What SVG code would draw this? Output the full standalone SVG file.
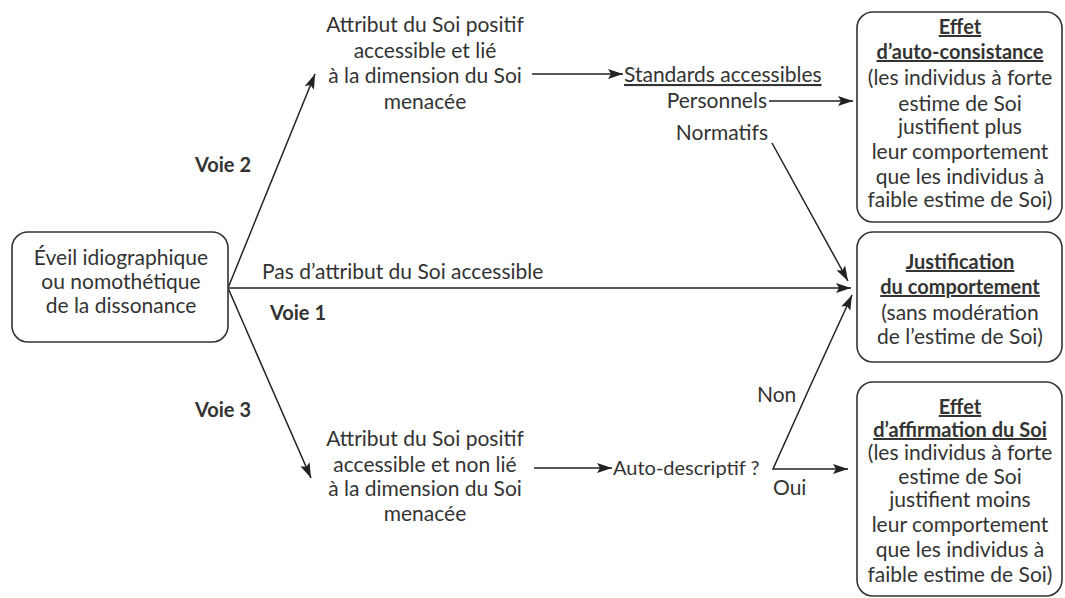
<svg xmlns="http://www.w3.org/2000/svg" width="1065" height="598" viewBox="0 0 1065 598">
<style>
text{font-family:Lato,"Open Sans","DejaVu Sans",sans-serif;font-size:21px;fill:#333;}
.c{text-anchor:middle;}
.e{text-anchor:end;}
.b{font-weight:bold;font-size:20px;}
.u{text-decoration:underline;}
.box{fill:#fff;stroke:#333;stroke-width:1.6;}
.ln{fill:none;stroke:#222;stroke-width:1.5;}
</style>
<defs>
<marker id="ah" markerWidth="16" markerHeight="10" refX="15" refY="5" orient="auto" markerUnits="userSpaceOnUse">
<path d="M0,0 L15,5 L0,10 L3,5 Z" fill="#222"/>
</marker>
</defs>
<rect width="1065" height="598" fill="#fff"/>
<g id="connectors">
<line class="ln" x1="228" y1="288" x2="315" y2="74" marker-end="url(#ah)"/>
<line class="ln" x1="228" y1="288" x2="851" y2="288" marker-end="url(#ah)"/>
<line class="ln" x1="228" y1="288" x2="311" y2="478" marker-end="url(#ah)"/>
<line class="ln" x1="532" y1="74" x2="623" y2="74" marker-end="url(#ah)"/>
<line class="ln" x1="769" y1="101" x2="853" y2="101" marker-end="url(#ah)"/>
<line class="ln" x1="772" y1="143" x2="848" y2="281" marker-end="url(#ah)"/>
<line class="ln" x1="534" y1="468" x2="612" y2="468" marker-end="url(#ah)"/>
<polyline class="ln" points="813,380 773,469 848,469" marker-end="url(#ah)"/>
<line class="ln" x1="813" y1="380" x2="852" y2="295" marker-end="url(#ah)"/>
</g>
<g id="n-source">
<rect class="box" x="12" y="232" width="216" height="110" rx="16"/>
<text class="c" x="121" y="265">Éveil idiographique</text>
<text class="c" x="121" y="289">ou nomothétique</text>
<text class="c" x="121" y="313">de la dissonance</text>
</g>
<g id="labels">
<text class="b" x="195" y="172">Voie 2</text>
<text class="b" x="270" y="320">Voie 1</text>
<text class="b" x="195" y="417">Voie 3</text>
<text x="262" y="279">Pas d’attribut du Soi accessible</text>
<text x="757" y="402">Non</text>
<text x="773" y="495">Oui</text>
</g>
<g id="n-attr-lie">
<text class="c" x="425" y="32">Attribut du Soi positif</text>
<text class="c" x="425" y="58">accessible et lié</text>
<text class="c" x="425" y="83">à la dimension du Soi</text>
<text class="c" x="425" y="109">menacée</text>
</g>
<g id="n-standards">
<text class="u" x="624" y="82">Standards accessibles</text>
<text class="e" x="767" y="108">Personnels</text>
<text class="e" x="768" y="140">Normatifs</text>
</g>
<g id="n-attr-nonlie">
<text class="c" x="425" y="446">Attribut du Soi positif</text>
<text class="c" x="425" y="472">accessible et non lié</text>
<text class="c" x="425" y="496">à la dimension du Soi</text>
<text class="c" x="425" y="521">menacée</text>
</g>
<g id="n-autodesc">
<text x="613" y="475" style="font-size:20px">Auto-descriptif ?</text>
</g>
<g id="n-autoconsistance">
<rect class="box" x="857" y="12" width="205" height="210" rx="16"/>
<text class="c b u" x="960" y="34">Effet</text>
<text class="c b u" x="960" y="59">d’auto-consistance</text>
<text class="c" x="960" y="85">(les individus à forte</text>
<text class="c" x="960" y="111">estime de Soi</text>
<text class="c" x="960" y="134">justifient plus</text>
<text class="c" x="960" y="159">leur comportement</text>
<text class="c" x="960" y="184">que les individus à</text>
<text class="c" x="960" y="207">faible estime de Soi)</text>
</g>
<g id="n-justification">
<rect class="box" x="857" y="232" width="205" height="130" rx="16"/>
<text class="c b u" x="960" y="269">Justification</text>
<text class="c b u" x="960" y="294">du comportement</text>
<text class="c" x="960" y="320">(sans modération</text>
<text class="c" x="960" y="344">de l’estime de Soi)</text>
</g>
<g id="n-affirmation">
<rect class="box" x="857" y="382" width="205" height="214" rx="16"/>
<text class="c b u" x="960" y="414">Effet</text>
<text class="c b u" x="960" y="437">d’affirmation du Soi</text>
<text class="c" x="960" y="460">(les individus à forte</text>
<text class="c" x="960" y="484">estime de Soi</text>
<text class="c" x="960" y="507">justifient moins</text>
<text class="c" x="960" y="532">leur comportement</text>
<text class="c" x="960" y="557">que les individus à</text>
<text class="c" x="960" y="582">faible estime de Soi)</text>
</g>
</svg>
